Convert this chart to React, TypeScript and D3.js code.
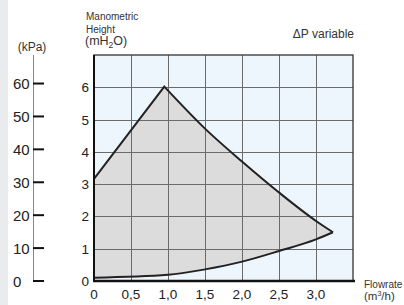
import { useEffect, useRef } from "react";
import * as d3 from "d3";

// Pump curve envelope (flow m3/h, head mH2O)
const maxFlow = [0, 0.95, 1.5, 2.0, 2.5, 3.0, 3.23];
const maxHead = [3.16, 6.02, 4.72, 3.7, 2.74, 1.86, 1.51];
const minFlow = [0, 1.0, 1.5, 2.0, 2.5, 3.0, 3.23];
const minHead = [0.1, 0.19, 0.36, 0.6, 0.93, 1.29, 1.51];

const xTicks = [0, 0.5, 1.0, 1.5, 2.0, 2.5, 3.0];
const xGrid = [0.5, 1.0, 1.5, 2.0, 2.5, 3.0];
const yTicks = [0, 1, 2, 3, 4, 5, 6];
const kpaTicks = [0, 10, 20, 30, 40, 50, 60];

export default function App() {
    const svgRef = useRef<SVGSVGElement>(null);

    useEffect(() => {
        if (!svgRef.current) return;
        const svg = d3.select(svgRef.current);
        svg.selectAll("*").remove();

        const W = 404, H = 305;
        const left = 94, right = 353, top = 55, bottom = 281;
        const font = "Liberation Sans, Arial, sans-serif";
        const ink = "#222";

        svg.attr("width", W).attr("height", H);
        svg.append("rect").attr("width", W).attr("height", H).attr("fill", "#fff");
        svg.append("rect").attr("width", 8).attr("height", H).attr("fill", "#eaebed");

        const x = d3.scaleLinear().domain([0, 3.5]).range([left, right]);
        const y = d3.scaleLinear().domain([0, 7]).range([bottom, top]);
        const yKpa = d3.scaleLinear().domain([0, 7 * 9.81]).range([bottom, top]);

        // plot background
        svg.append("rect")
            .attr("x", left).attr("y", top)
            .attr("width", right - left).attr("height", bottom - top)
            .attr("fill", "#eef6fd");

        type P = [number, number];
        const maxPts: P[] = maxFlow.map((f, i) => [x(f), y(maxHead[i])]);
        const minPts: P[] = minFlow.map((f, i) => [x(f), y(minHead[i])]);
        const rise = d3.line<P>()(maxPts.slice(0, 2))!;
        const fall = d3.line<P>().curve(d3.curveMonotoneX)(maxPts.slice(1))!;
        const low = d3.line<P>().curve(d3.curveMonotoneX)(minPts)!;
        const lowRev = d3.line<P>().curve(d3.curveMonotoneX)(minPts.slice().reverse())!;
        const upper = rise + fall.replace(/^M[^A-Za-z]*/, "L" + maxPts[1].join(","));

        // envelope fill
        svg.append("path")
            .attr("d", upper + lowRev.replace(/^M/, "L") + "Z")
            .attr("fill", "#dcdcdd");

        // grid
        const grid = svg.append("g").attr("stroke", "#6b6b6b").attr("stroke-width", 1);
        xGrid.forEach(v => {
            grid.append("line").attr("x1", Math.round(x(v)) + 0.5).attr("x2", Math.round(x(v)) + 0.5)
                .attr("y1", top).attr("y2", bottom);
        });
        [1, 2, 3, 4, 5, 6].forEach(v => {
            grid.append("line").attr("y1", Math.round(y(v)) + 0.5).attr("y2", Math.round(y(v)) + 0.5)
                .attr("x1", left).attr("x2", right);
        });

        // curves
        svg.append("path")
            .attr("d", upper)
            .attr("fill", "none").attr("stroke", ink).attr("stroke-width", 2).attr("stroke-linejoin", "miter");
        svg.append("path")
            .attr("d", low)
            .attr("fill", "none").attr("stroke", ink).attr("stroke-width", 2);

        // frame
        svg.append("rect")
            .attr("x", left).attr("y", top)
            .attr("width", right - left).attr("height", bottom - top)
            .attr("fill", "none").attr("stroke", "#333").attr("stroke-width", 1.3);
        svg.append("line").attr("x1", left).attr("x2", left).attr("y1", top).attr("y2", bottom + 1)
            .attr("stroke", "#111").attr("stroke-width", 2);
        svg.append("line").attr("x1", left - 1).attr("x2", right + 2).attr("y1", bottom).attr("y2", bottom)
            .attr("stroke", "#111").attr("stroke-width", 2.5);

        // y tick labels (mH2O)
        svg.append("g").selectAll("text").data(yTicks).enter().append("text")
            .attr("x", 89).attr("y", d => y(d) + 5)
            .attr("text-anchor", "end").attr("font-family", font).attr("font-size", 13.5)
            .attr("fill", ink).text(d => String(d));

        // x tick labels
        svg.append("g").selectAll("text").data(xTicks).enter().append("text")
            .attr("x", d => x(d)).attr("y", 299)
            .attr("text-anchor", "middle").attr("font-family", font).attr("font-size", 13.5)
            .attr("fill", ink).text(d => d === 0 ? "0" : d.toFixed(1).replace(".", ","));

        // kPa axis
        svg.append("line").attr("x1", 33.5).attr("x2", 33.5).attr("y1", top).attr("y2", bottom)
            .attr("stroke", "#888").attr("stroke-width", 1);
        const kg = svg.append("g");
        kpaTicks.forEach(v => {
            const yy = yKpa(v);
            kg.append("line").attr("x1", 33).attr("x2", 44).attr("y1", yy).attr("y2", yy)
                .attr("stroke", "#111").attr("stroke-width", 2);
            kg.append("text").attr("x", 13).attr("y", yy + 5.5)
                .attr("text-anchor", "start").attr("font-family", font).attr("font-size", 15)
                .attr("fill", ink).text(String(v));
        });
        svg.append("text").attr("x", 32).attr("y", 51).attr("text-anchor", "middle")
            .attr("font-family", font).attr("font-size", 12).attr("fill", "#333").text("(kPa)");

        // titles
        const t = svg.append("g").attr("font-family", font).attr("fill", "#333");
        t.append("text").attr("x", 86).attr("y", 20).attr("font-size", 10).text("Manometric");
        t.append("text").attr("x", 86).attr("y", 33).attr("font-size", 10).text("Height");
        const mh = t.append("text").attr("x", 85).attr("y", 45).attr("font-size", 12.5);
        mh.append("tspan").text("(mH");
        mh.append("tspan").attr("font-size", 8.5).attr("dy", 3).text("2");
        mh.append("tspan").attr("dy", -3).text("O)");
        t.append("text").attr("x", 354).attr("y", 38).attr("text-anchor", "end").attr("font-size", 12)
            .text("ΔP variable");
        t.append("text").attr("x", 364).attr("y", 288).attr("font-size", 10).text("Flowrate");
        const fl = t.append("text").attr("x", 364).attr("y", 300).attr("font-size", 11.5);
        fl.append("tspan").text("(m");
        fl.append("tspan").attr("font-size", 7).attr("dy", -4).text("3");
        fl.append("tspan").attr("dy", 4).text("/h)");
    }, []);

    return (
        <div style={{ position: "absolute", left: 0, top: 0 }}>
            <svg ref={svgRef} style={{ display: "block" }}></svg>
        </div>
    );
}
